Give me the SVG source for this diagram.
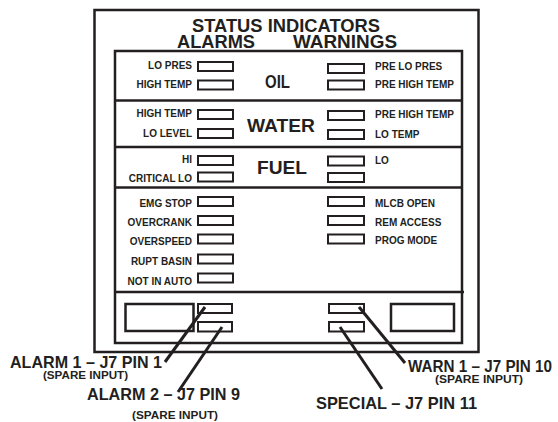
<svg xmlns="http://www.w3.org/2000/svg" width="558" height="422" viewBox="0 0 558 422">
<style>
.frame{fill:none;stroke:#231f20;stroke-width:2.5}
.ind{fill:#fff;stroke:#231f20;stroke-width:2}
.lead{stroke:#231f20;stroke-width:3;fill:none}
text{font-family:"Liberation Sans",Arial,sans-serif;font-weight:bold;fill:#231f20}
.lbl{font-size:10px}
.lblL{font-size:10px;text-anchor:end}
.sec{font-size:18px;text-anchor:middle}
.big{font-size:16.5px}
.sp{font-size:11px}
</style>
<rect width="558" height="422" fill="#fff"/>
<g id="frame">
<rect class="frame" x="94.5" y="10" width="384" height="342"/>
<rect class="frame" x="115" y="51" width="347" height="292"/>
<line class="frame" x1="115" y1="100.5" x2="462" y2="100.5"/>
<line class="frame" x1="115" y1="147" x2="462" y2="147"/>
<line class="frame" x1="115" y1="187.5" x2="462" y2="187.5"/>
<line class="frame" x1="115" y1="292" x2="464" y2="292"/>
<rect class="frame" x="125.5" y="304" width="68" height="27"/>
<rect class="frame" x="391" y="304" width="63" height="27"/>
</g>
<g id="title">
<text x="286" y="31.5" font-size="18" text-anchor="middle" textLength="188" lengthAdjust="spacingAndGlyphs">STATUS INDICATORS</text>
<text x="216" y="48" font-size="18" text-anchor="middle" textLength="78" lengthAdjust="spacingAndGlyphs">ALARMS</text>
<text x="345" y="48" font-size="18" text-anchor="middle" textLength="104" lengthAdjust="spacingAndGlyphs">WARNINGS</text>
</g>
<g id="oil">
<text class="sec" x="277.5" y="88" textLength="25" lengthAdjust="spacingAndGlyphs">OIL</text>
<rect class="ind" x="198" y="62" width="35" height="9"/>
<rect class="ind" x="198" y="80.5" width="35" height="9"/>
<rect class="ind" x="328" y="64" width="36" height="9"/>
<rect class="ind" x="328" y="80.5" width="36" height="9"/>
<text class="lblL" x="192" y="69">LO PRES</text>
<text class="lblL" x="192" y="87.5">HIGH TEMP</text>
<text class="lbl" x="375" y="69.5">PRE LO PRES</text>
<text class="lbl" x="375" y="87.5">PRE HIGH TEMP</text>
</g>
<g id="water">
<text class="sec" x="281" y="132" textLength="68" lengthAdjust="spacingAndGlyphs">WATER</text>
<rect class="ind" x="198" y="110" width="35" height="9"/>
<rect class="ind" x="198" y="129" width="35" height="9"/>
<rect class="ind" x="328" y="111" width="36" height="9"/>
<rect class="ind" x="328" y="130" width="36" height="9"/>
<text class="lblL" x="192" y="117">HIGH TEMP</text>
<text class="lblL" x="192" y="137">LO LEVEL</text>
<text class="lbl" x="375" y="117.5">PRE HIGH TEMP</text>
<text class="lbl" x="375" y="138">LO TEMP</text>
</g>
<g id="fuel">
<text class="sec" x="282" y="174" textLength="50" lengthAdjust="spacingAndGlyphs">FUEL</text>
<rect class="ind" x="198" y="156" width="35" height="9"/>
<rect class="ind" x="198" y="172.5" width="35" height="9"/>
<rect class="ind" x="328" y="156.5" width="36" height="9"/>
<rect class="ind" x="328" y="173" width="36" height="9"/>
<text class="lblL" x="192" y="163">HI</text>
<text class="lblL" x="192" y="182">CRITICAL LO</text>
<text class="lbl" x="375" y="163.5">LO</text>
</g>
<g id="misc">
<rect class="ind" x="198" y="197" width="35" height="9"/>
<rect class="ind" x="198" y="216" width="35" height="9"/>
<rect class="ind" x="198" y="234.5" width="35" height="9"/>
<rect class="ind" x="198" y="254.5" width="35" height="9"/>
<rect class="ind" x="198" y="273.5" width="35" height="9"/>
<rect class="ind" x="328" y="197" width="36" height="9"/>
<rect class="ind" x="328" y="216" width="36" height="9"/>
<rect class="ind" x="328" y="234.5" width="36" height="9"/>
<text class="lblL" x="192" y="207">EMG STOP</text>
<text class="lblL" x="192" y="225.5">OVERCRANK</text>
<text class="lblL" x="192" y="245">OVERSPEED</text>
<text class="lblL" x="192" y="265">RUPT BASIN</text>
<text class="lblL" x="192" y="285">NOT IN AUTO</text>
<text class="lbl" x="375" y="207">MLCB OPEN</text>
<text class="lbl" x="375" y="225.5">REM ACCESS</text>
<text class="lbl" x="375" y="243.5">PROG MODE</text>
</g>
<g id="spare">
<rect class="ind" x="198" y="304" width="34" height="9"/>
<rect class="ind" x="198" y="322" width="34" height="9.5"/>
<rect class="ind" x="329" y="304" width="35" height="9"/>
<rect class="ind" x="329" y="322" width="35" height="9.5"/>
</g>
<g id="connectors">
<line class="lead" x1="165" y1="362" x2="205" y2="307"/>
<line class="lead" x1="178" y1="392" x2="222" y2="327"/>
<line class="lead" x1="359" y1="307" x2="405" y2="363"/>
<line class="lead" x1="340" y1="327" x2="382" y2="389"/>
</g>
<g id="labels">
<text class="big" x="10" y="368" textLength="152" lengthAdjust="spacingAndGlyphs">ALARM 1 – J7 PIN 1</text>
<text class="sp" x="85.5" y="379" text-anchor="middle" textLength="85" lengthAdjust="spacingAndGlyphs">(SPARE INPUT)</text>
<text class="big" x="87" y="400" textLength="153" lengthAdjust="spacingAndGlyphs">ALARM 2 – J7 PIN 9</text>
<text class="sp" x="175" y="419" text-anchor="middle" textLength="86" lengthAdjust="spacingAndGlyphs">(SPARE INPUT)</text>
<text class="big" x="408" y="372" textLength="144" lengthAdjust="spacingAndGlyphs">WARN 1 – J7 PIN 10</text>
<text class="sp" x="479" y="383" text-anchor="middle" textLength="88" lengthAdjust="spacingAndGlyphs">(SPARE INPUT)</text>
<text class="big" x="316" y="409" textLength="161" lengthAdjust="spacingAndGlyphs">SPECIAL – J7 PIN 11</text>
</g>
</svg>
